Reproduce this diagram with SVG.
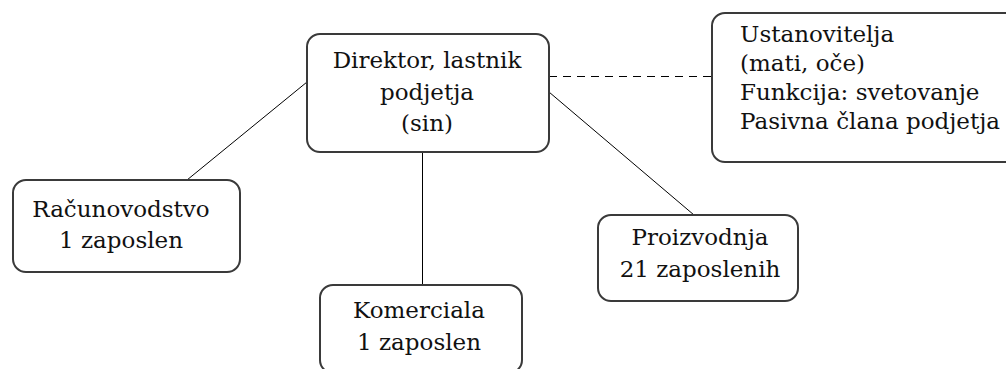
<svg xmlns="http://www.w3.org/2000/svg" width="1006" height="369" viewBox="0 0 1006 369">
<style>
.box{fill:#fff;stroke:#3a3a3a;stroke-width:2}
.t{font-family:"DejaVu Serif","Liberation Serif",serif;font-size:23px;fill:#111}
.c{text-anchor:middle}
.ln{stroke:#000;stroke-width:1;fill:none}
</style>
<rect width="1006" height="369" fill="#fff"/>
<g id="connectors">
<line class="ln" x1="307" y1="82" x2="187" y2="180"/>
<line class="ln" x1="422.5" y1="152" x2="422.5" y2="285"/>
<line class="ln" x1="549" y1="92" x2="694" y2="215"/>
<line class="ln" x1="549" y1="76.5" x2="712" y2="76.5" stroke-dasharray="8,6"/>
</g>
<g id="direktor">
<rect class="box" x="307" y="34" width="242" height="118" rx="13"/>
<text class="t c" x="427" y="68">Direktor, lastnik</text>
<text class="t c" x="427" y="100">podjetja</text>
<text class="t c" x="427" y="131">(sin)</text>
</g>
<g id="ustanovitelja">
<rect class="box" x="712" y="13" width="320" height="149" rx="13"/>
<text class="t" x="740" y="42">Ustanovitelja</text>
<text class="t" x="740" y="71">(mati, oče)</text>
<text class="t" x="740" y="100">Funkcija: svetovanje</text>
<text class="t" x="740" y="129">Pasivna člana podjetja</text>
</g>
<g id="racunovodstvo">
<rect class="box" x="13" y="180" width="227" height="92" rx="13"/>
<text class="t c" x="121" y="217">Računovodstvo</text>
<text class="t c" x="121" y="248">1 zaposlen</text>
</g>
<g id="komerciala">
<rect class="box" x="320" y="285" width="202" height="88" rx="13"/>
<text class="t c" x="419" y="318">Komerciala</text>
<text class="t c" x="419" y="350">1 zaposlen</text>
</g>
<g id="proizvodnja">
<rect class="box" x="598" y="215" width="200" height="86" rx="13"/>
<text class="t c" x="700" y="245">Proizvodnja</text>
<text class="t c" x="700" y="277">21 zaposlenih</text>
</g>
</svg>
